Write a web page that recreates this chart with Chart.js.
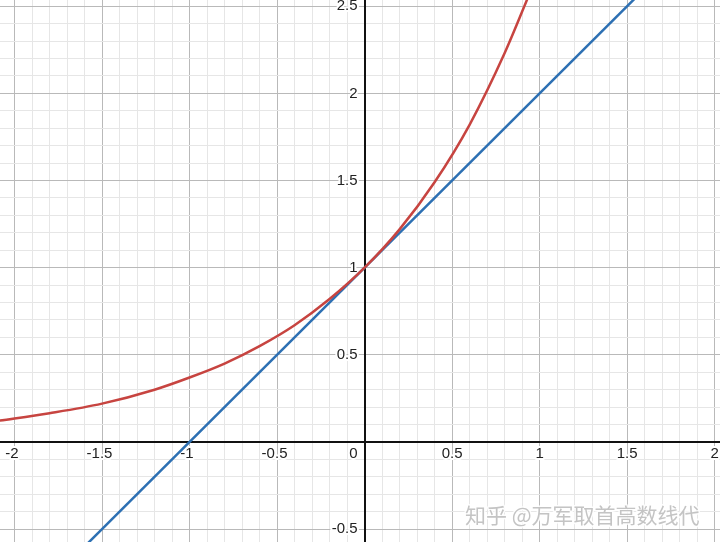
<!DOCTYPE html>
<html><head><meta charset="utf-8">
<script src="https://cdn.jsdelivr.net/npm/chart.js@4"></script>
<style>html,body{margin:0;padding:0;background:#fff;}#wrap{width:720px;height:542px;}</style>
</head><body><div id="wrap"><canvas id="c" width="720" height="542"></canvas></div>
<script>
// curve y = e^x (red)
const redX = [-2.1,-1.8,-1.5,-1.2,-1.0,-0.8,-0.6,-0.4,-0.2,0,0.2,0.4,0.6,0.8,0.95];
const redY = [0.12,0.165,0.22,0.30,0.37,0.45,0.55,0.67,0.82,1.0,1.22,1.49,1.82,2.23,2.59];
// line y = x + 1 (blue)
const blueX = [-1.6, 1.6];
const blueY = [-0.6, 2.6];
// tick labels
const xTickVals = [-2,-1.5,-1,-0.5,0.5,1,1.5,2];
const xTickLabels = ['-2','-1.5','-1','-0.5','0.5','1','1.5','2'];
const yTickVals = [-0.5,0.5,1,1.5,2,2.5];
const yTickLabels = ['-0.5','0.5','1','1.5','2','2.5'];
const originLabel = '0';
const watermark = '知乎 @万军取首高数线代';

const X_MIN=-2.083, X_MAX=2.031, Y_MIN=-0.574, Y_MAX=2.536;

function gridTicks(scale){
  const t=[];
  for(let k=Math.ceil(scale.min*10);k<=Math.floor(scale.max*10);k++) t.push({value:k/10});
  scale.ticks=t;
}
function gColor(ctx){
  const v=ctx.tick?ctx.tick.value:1;
  if(Math.abs(v*2-Math.round(v*2))<1e-6) return '#b9b9b9';
  return '#e6e6e6';
}

const labelPlugin={
  id:'labels',
  beforeDatasetsDraw(chart){
    const c=chart.ctx, xs=chart.scales.x, ys=chart.scales.y, a=chart.chartArea;
    const x0=xs.getPixelForValue(0), y0=ys.getPixelForValue(0);
    c.save();
    // axes
    c.strokeStyle='#111111'; c.lineWidth=2;
    c.beginPath();
    c.moveTo(a.left,Math.round(y0)); c.lineTo(a.right,Math.round(y0));
    c.moveTo(Math.round(x0),a.top); c.lineTo(Math.round(x0),a.bottom);
    c.stroke();
    c.font='15px "Liberation Sans", Arial, sans-serif';
    c.textBaseline='middle';
    c.lineJoin='round';
    c.strokeStyle='#ffffff'; c.lineWidth=4; c.fillStyle='#222222';
    xTickVals.forEach((v,i)=>{
      const t=xTickLabels[i];
      const core=t.replace('-','');
      const w=c.measureText(core).width;
      const px=xs.getPixelForValue(v);
      c.textAlign='right';
      c.strokeText(t,px+w/2,y0+12);
      c.fillText(t,px+w/2,y0+12);
    });
    yTickVals.forEach((v,i)=>{
      const t=yTickLabels[i];
      const py=ys.getPixelForValue(v);
      c.textAlign='right';
      c.strokeText(t,x0-7,py);
      c.fillText(t,x0-7,py);
    });
    c.textAlign='right';
    c.strokeText(originLabel,x0-7,y0+12);
    c.fillText(originLabel,x0-7,y0+12);
    c.restore();
  },
  afterDraw(chart){
    const c=chart.ctx;
    c.save();
    c.font='21px "Noto Sans CJK SC", sans-serif';
    c.textAlign='left'; c.textBaseline='middle';
    c.lineJoin='round';
    c.strokeStyle='rgba(255,255,255,0.9)'; c.lineWidth=3;
    c.strokeText(watermark,465,515);
    c.fillStyle='#c4c4c4';
    c.fillText(watermark,465,515);
    c.restore();
  }
};

new Chart(document.getElementById('c'),{
  type:'scatter',
  data:{datasets:[
    {data:redX.map((x,i)=>({x,y:redY[i]})),showLine:true,borderColor:'#c74440',borderWidth:2.5,pointRadius:0,tension:0.4,cubicInterpolationMode:'monotone',fill:false},
    {data:blueX.map((x,i)=>({x,y:blueY[i]})),showLine:true,borderColor:'#2d70b3',borderWidth:2.5,pointRadius:0,fill:false}
  ]},
  options:{
    responsive:false,animation:false,devicePixelRatio:1,
    layout:{padding:0},
    plugins:{legend:{display:false},tooltip:{enabled:false}},
    scales:{
      x:{type:'linear',min:X_MIN,max:X_MAX,afterBuildTicks:gridTicks,afterFit:s=>{s.height=0;},
         ticks:{display:false},border:{display:false},grid:{color:gColor,lineWidth:1,drawTicks:false}},
      y:{type:'linear',min:Y_MIN,max:Y_MAX,afterBuildTicks:gridTicks,afterFit:s=>{s.width=0;},
         ticks:{display:false},border:{display:false},grid:{color:gColor,lineWidth:1,drawTicks:false}}
    }
  },
  plugins:[labelPlugin]
});
</script></body></html>
